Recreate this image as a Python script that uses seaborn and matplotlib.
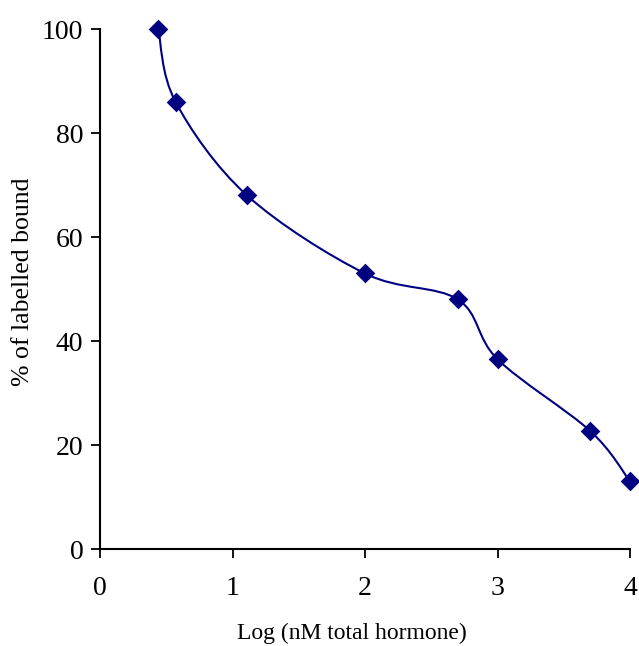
import numpy as np
import pandas as pd
import matplotlib
matplotlib.use("Agg")
import matplotlib.pyplot as plt
from matplotlib.path import Path
from matplotlib.patches import PathPatch
import seaborn as sns

# values
log_hormone = [0.44, 0.57, 1.11, 2.0, 2.7, 3.0, 3.7, 4.0]
pct_bound = [100, 86, 68, 53, 48, 36.5, 22.7, 13]

x_ticks = [0, 1, 2, 3, 4]
y_ticks = [0, 20, 40, 60, 80, 100]
navy = "#000080"


def smooth_path(xs, ys, ax):
    """Excel-like smoothed line: Catmull-Rom turned into cubic Bezier in axes space."""
    x0, x1 = ax.get_xlim()
    y0, y1 = ax.get_ylim()
    p = np.column_stack([(np.asarray(xs) - x0) / (x1 - x0),
                         (np.asarray(ys) - y0) / (y1 - y0)])
    verts = [p[0]]
    codes = [Path.MOVETO]
    n = len(p)
    for i in range(n - 1):
        prev = p[i - 1] if i > 0 else p[i]
        nxt = p[i + 2] if i + 2 < n else p[i + 1]
        c1 = p[i] + (p[i + 1] - prev) / 6
        c2 = p[i + 1] - (nxt - p[i]) / 6
        verts += [c1, c2, p[i + 1]]
        codes += [Path.CURVE4] * 3
    return PathPatch(Path(verts, codes), facecolor="none", edgecolor=navy,
                     lw=1.5, transform=ax.transAxes, zorder=2)


sns.set_style("ticks")
plt.rcParams["font.family"] = ["Liberation Serif", "DejaVu Serif"]

df = pd.DataFrame({"x": log_hormone, "y": pct_bound})

fig = plt.figure(figsize=(6.39, 6.46), dpi=100)
ax = fig.add_axes([0.1565, 0.150, 0.8295, 0.805])
ax.set_xlim(0, 4)
ax.set_ylim(0, 100)
ax.add_patch(smooth_path(df["x"], df["y"], ax))
sns.scatterplot(data=df, x="x", y="y", marker="D", s=100, color=navy,
                edgecolor=navy, linewidth=0, zorder=3, clip_on=False, ax=ax)

ax.set_xticks(x_ticks)
ax.set_yticks(y_ticks)
ax.tick_params(labelsize=20, length=6.5, width=1.3, color="black",
               labelcolor="black")
ax.tick_params(axis="y", pad=5.5)
ax.tick_params(axis="x", pad=13)
for side in ["left", "bottom"]:
    ax.spines[side].set_linewidth(1.5)
    ax.spines[side].set_color("black")
sns.despine(ax=ax)
ax.set_xlabel("Log (nM total hormone)", fontsize=17, color="black", va="top")
ax.xaxis.set_label_coords(0.475, -0.142)
ax.set_ylabel("% of labelled bound", fontsize=18.5, color="black", va="center")
ax.yaxis.set_label_coords(-0.145, 0.515)

fig.savefig("out.png", dpi=100)
